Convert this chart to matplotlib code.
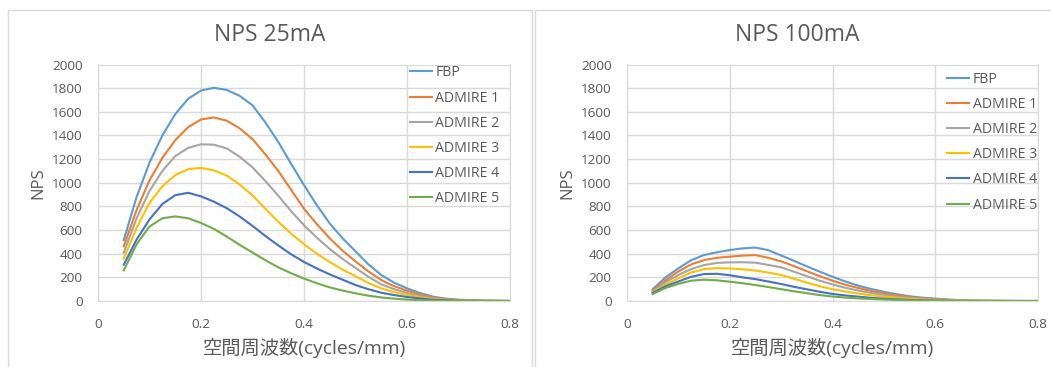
import matplotlib
matplotlib.use('Agg')
import matplotlib.pyplot as plt
from matplotlib.patches import Rectangle

# 欧文は Open Sans、和文は Noto Sans CJK JP にフォールバック
plt.rcParams['font.family'] = ['Open Sans', 'Noto Sans CJK JP', 'DejaVu Sans']
plt.rcParams['axes.unicode_minus'] = False

# ================== データ ==================
freq = [0.05, 0.075, 0.1, 0.125, 0.15, 0.175, 0.2, 0.225, 0.25, 0.275, 0.3,
        0.325, 0.35, 0.375, 0.4, 0.425, 0.45, 0.475, 0.5, 0.525, 0.55,
        0.575, 0.6, 0.625, 0.65, 0.675, 0.7, 0.75, 0.8]

labels = ['FBP', 'ADMIRE 1', 'ADMIRE 2', 'ADMIRE 3', 'ADMIRE 4', 'ADMIRE 5']
colors = ['#5B9BD5', '#ED7D31', '#A5A5A5', '#FFC000', '#4472C4', '#70AD47']

# 25mA
fbp_25 = [515, 880, 1170, 1400, 1580, 1710, 1780, 1803, 1785, 1735, 1655,
          1510, 1345, 1160, 980, 810, 655, 530, 420, 310, 220,
          155, 107, 68, 37, 20, 11, 3, 1]
adm1_25 = [462, 770, 1020, 1210, 1360, 1470, 1535, 1552, 1525, 1460, 1370,
           1240, 1100, 940, 780, 650, 530, 425, 335, 250, 177,
           125, 87, 55, 31, 16, 8, 2, 0]
adm2_25 = [408, 700, 930, 1100, 1225, 1295, 1325, 1322, 1290, 1220, 1130,
           1015, 890, 760, 640, 535, 440, 355, 280, 205, 141,
           100, 68, 42, 23, 12, 6, 1, 0]
adm3_25 = [358, 620, 830, 970, 1065, 1115, 1126, 1105, 1060, 985, 893,
           780, 670, 570, 480, 400, 330, 265, 210, 153, 107,
           75, 51, 32, 17, 9, 4, 1, 0]
adm4_25 = [307, 520, 690, 820, 895, 915, 885, 840, 785, 715, 635,
           550, 470, 395, 330, 275, 225, 180, 135, 100, 70,
           50, 34, 21, 11, 6, 3, 1, 0]
adm5_25 = [259, 480, 630, 700, 715, 700, 660, 610, 545, 475, 410,
           345, 285, 235, 190, 150, 115, 88, 65, 45, 30,
           20, 12, 7, 4, 2, 1, 0, 0]

# 100mA
fbp_100 = [99, 200, 276, 345, 389, 412, 431, 445, 452, 430, 385,
           340, 293, 248, 205, 165, 130, 102, 78, 57, 40,
           28, 20, 12, 7, 4, 2, 1, 0]
adm1_100 = [87, 175, 250, 310, 346, 365, 375, 384, 388, 365, 335,
            295, 252, 210, 172, 138, 110, 85, 65, 48, 35,
            24, 16, 10, 6, 3, 2, 0, 0]
adm2_100 = [79, 160, 220, 270, 304, 322, 327, 328, 324, 305, 285,
            248, 210, 172, 140, 112, 88, 68, 52, 38, 27,
            18, 12, 8, 5, 2, 1, 0, 0]
adm3_100 = [73, 140, 192, 240, 270, 278, 275, 268, 258, 240, 220,
            188, 155, 125, 100, 80, 63, 49, 37, 27, 18,
            12, 8, 5, 3, 2, 1, 0, 0]
adm4_100 = [68, 125, 165, 205, 228, 230, 218, 200, 185, 165, 144,
            120, 99, 78, 60, 47, 37, 27, 20, 14, 9,
            6, 4, 2, 1, 0, 0, 0, 0]
adm5_100 = [59, 110, 145, 172, 180, 175, 163, 150, 135, 118, 100,
            82, 66, 50, 38, 29, 22, 17, 13, 9, 6,
            4, 3, 2, 1, 0, 0, 0, 0]

series_25 = [fbp_25, adm1_25, adm2_25, adm3_25, adm4_25, adm5_25]
series_100 = [fbp_100, adm1_100, adm2_100, adm3_100, adm4_100, adm5_100]

W, H = 1051, 367
fig = plt.figure(figsize=(W / 100, H / 100), dpi=100)

# チャート枠 (Excel風)
for x0, x1 in [(8, 532), (535, 1060)]:
    fig.add_artist(Rectangle((x0 / W, -0.05), (x1 - x0) / W, 1.05 - 9.5 / H,
                             transform=fig.transFigure, fill=False,
                             edgecolor='#d9d9d9', linewidth=1))

GRID = '#d9d9d9'
TXT = '#595959'


def draw(ax, data, title, title_x, leg_anchor):
    for vals, lab, c in zip(data, labels, colors):
        ax.plot(freq, vals, color=c, linewidth=1.5, label=lab)
    ax.set_xlim(0, 0.8)
    ax.set_ylim(0, 2000)
    ax.set_xticks([0, 0.2, 0.4, 0.6, 0.8])
    ax.set_xticklabels(['0', '0.2', '0.4', '0.6', '0.8'])
    ax.set_yticks(range(0, 2001, 200))
    ax.grid(True, color=GRID, linewidth=1)
    ax.set_axisbelow(True)
    for s in ax.spines.values():
        s.set_color(GRID)
    ax.tick_params(length=0, labelsize=9.7, colors=TXT)
    ax.tick_params(axis='y', pad=11)
    ax.tick_params(axis='x', pad=12)
    ax.set_xlabel('空間周波数(cycles/mm)', fontsize=13.9, color=TXT, labelpad=5)
    ax.set_ylabel('NPS', fontsize=12, color=TXT, labelpad=4)
    fig.text(title_x / W, 1 - 35 / H, title, ha='center', va='center',
             fontsize=16.5, color=TXT)
    ax.legend(loc='upper left', bbox_to_anchor=leg_anchor, frameon=False,
              fontsize=10.2, handlelength=1.55, handletextpad=0.25,
              labelspacing=0.72, borderpad=0, borderaxespad=0,
              labelcolor=TXT)


ax1 = fig.add_axes([98 / W, 66 / H, 412 / W, 236.5 / H])
draw(ax1, series_25, 'NPS 25mA', 270, (0.757, 0.996))

ax2 = fig.add_axes([627 / W, 66 / H, 411 / W, 236.5 / H])
draw(ax2, series_100, 'NPS 100mA', 797, (0.779, 0.97))

fig.savefig('out.png', dpi=100)
